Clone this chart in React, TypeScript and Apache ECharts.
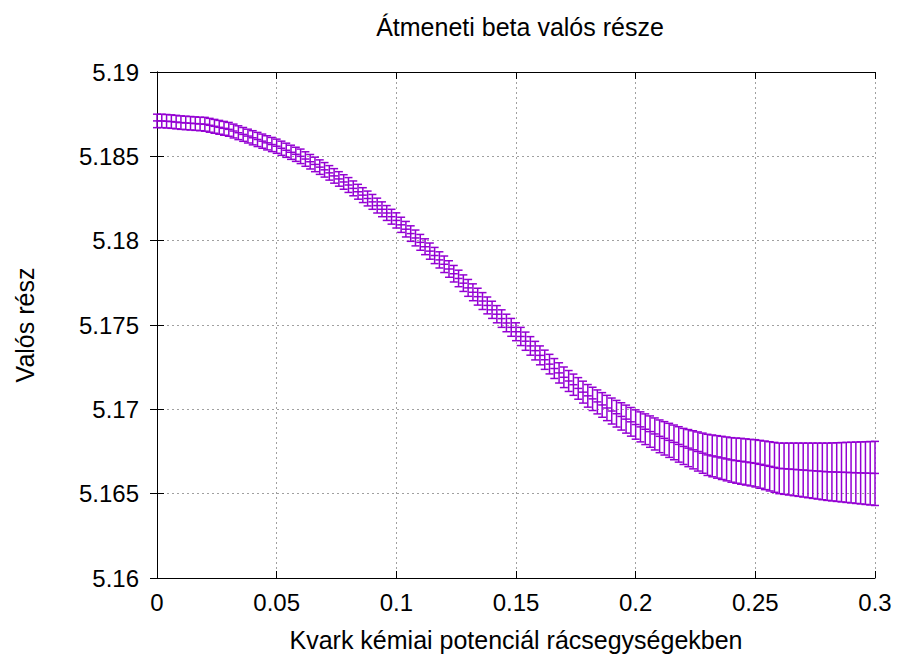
import React, { useEffect, useRef } from "react";
import * as echarts from "echarts";

const TITLE = "Átmeneti beta valós része";
const X_NAME = "Kvark kémiai potenciál rácsegységekben";
const Y_NAME = "Valós rész";
const X_START = 0;
const X_STEP = 0.002;

const centers: number[] = [
  5.1871, 5.1871, 5.18708, 5.18706, 5.18703,
  5.187, 5.18698, 5.18696, 5.18694, 5.18692,
  5.1869, 5.18684, 5.18678, 5.18672, 5.18666,
  5.1866, 5.1865, 5.1864, 5.1863, 5.1862,
  5.1861, 5.186, 5.1859, 5.1858, 5.1857,
  5.1856, 5.18548, 5.18536, 5.18524, 5.18512,
  5.185, 5.18484, 5.18468, 5.18452, 5.18436,
  5.1842, 5.18402, 5.18384, 5.18366, 5.18348,
  5.1833, 5.1831, 5.1829, 5.1827, 5.1825,
  5.1823, 5.18208, 5.18186, 5.18164, 5.18142,
  5.1812, 5.18094, 5.18068, 5.18042, 5.18016,
  5.1799, 5.17964, 5.17938, 5.17912, 5.17886,
  5.1786, 5.17832, 5.17804, 5.17776, 5.17748,
  5.1772, 5.17694, 5.17668, 5.17642, 5.17616,
  5.1759, 5.17564, 5.17538, 5.17512, 5.17486,
  5.1746, 5.17432, 5.17404, 5.17376, 5.17348,
  5.1732, 5.17294, 5.17268, 5.17242, 5.17216,
  5.1719, 5.17168, 5.17146, 5.17124, 5.17102,
  5.1708, 5.17062, 5.17044, 5.17026, 5.17008,
  5.1699, 5.16974, 5.16958, 5.16942, 5.16926,
  5.1691, 5.16896, 5.16882, 5.16868, 5.16854,
  5.1684, 5.16828, 5.16816, 5.16804, 5.16792,
  5.1678, 5.1677, 5.1676, 5.1675, 5.1674,
  5.1673, 5.16724, 5.16718, 5.16712, 5.16706,
  5.167, 5.16696, 5.16692, 5.16688, 5.16684,
  5.1668, 5.16674, 5.16668, 5.16662, 5.16656,
  5.1665, 5.16648, 5.16646, 5.16644, 5.16642,
  5.1664, 5.16638, 5.16636, 5.16634, 5.16632,
  5.1663, 5.16629, 5.16628, 5.16627, 5.16626,
  5.16625, 5.16624, 5.16623, 5.16622, 5.16621,
  5.1662,
];

const errors: number[] = [
  0.0004, 0.0004, 0.0004, 0.0004, 0.0004,
  0.0004, 0.0004, 0.0004, 0.0004, 0.0004,
  0.00041, 0.00041, 0.00041, 0.00041, 0.00041,
  0.00041, 0.00041, 0.00041, 0.00041, 0.00041,
  0.00042, 0.00042, 0.00042, 0.00042, 0.00042,
  0.00042, 0.00042, 0.00042, 0.00042, 0.00042,
  0.00043, 0.00043, 0.00043, 0.00043, 0.00043,
  0.00043, 0.00043, 0.00043, 0.00043, 0.00043,
  0.00044, 0.00044, 0.00044, 0.00044, 0.00044,
  0.00044, 0.00044, 0.00044, 0.00044, 0.00044,
  0.00045, 0.00045, 0.00046, 0.00046, 0.00047,
  0.00047, 0.00047, 0.00048, 0.00048, 0.00048,
  0.00049, 0.00049, 0.00049, 0.00049, 0.00049,
  0.0005, 0.0005, 0.0005, 0.0005, 0.0005,
  0.00051, 0.00051, 0.00052, 0.00052, 0.00053,
  0.00053, 0.00054, 0.00054, 0.00055, 0.00055,
  0.00056, 0.00057, 0.00058, 0.00059, 0.0006,
  0.00061, 0.00062, 0.00063, 0.00064, 0.00065,
  0.00067, 0.00069, 0.00071, 0.00073, 0.00075,
  0.00077, 0.00079, 0.00081, 0.00083, 0.00085,
  0.00087, 0.00089, 0.00091, 0.00093, 0.00095,
  0.00097, 0.00099, 0.00101, 0.00103, 0.00105,
  0.00107, 0.0011, 0.00113, 0.00116, 0.00119,
  0.00122, 0.00124, 0.00126, 0.00128, 0.0013,
  0.00132, 0.00134, 0.00136, 0.00137, 0.00138,
  0.0014, 0.00142, 0.00144, 0.00146, 0.00148,
  0.0015, 0.00152, 0.00154, 0.00156, 0.00158,
  0.0016, 0.00162, 0.00164, 0.00166, 0.00168,
  0.0017, 0.00172, 0.00174, 0.00176, 0.00178,
  0.0018, 0.00182, 0.00184, 0.00186, 0.00188,
  0.0019,
];

const COLOR = "#9400d3";
const FONT = "'Liberation Sans', Arial, sans-serif";

const fmt = (v: number) => String(parseFloat(v.toFixed(4)));

export default function App() {
  const ref = useRef<HTMLDivElement>(null);
  useEffect(() => {
    document.body.style.margin = "0";
    if (!ref.current) return;
    const chart = echarts.init(ref.current, null, { renderer: "svg" });
    const data = centers.map((c, i) => [X_START + i * X_STEP, c, errors[i]]);
    const gridLine = { show: true, lineStyle: { color: "#a0a0a0", type: [2, 3] as any, width: 1 } };
    const hiddenAxis = {
      show: true,
      axisLabel: { show: false },
      splitLine: { show: false },
      axisLine: { show: true, lineStyle: { color: "#000", width: 1 } },
      axisTick: { show: true, inside: true, length: 7, lineStyle: { color: "#000" } },
    };
    chart.setOption({
      animation: false,
      backgroundColor: "#fff",
      title: {
        text: TITLE,
        left: 515,
        textAlign: "center",
        top: 9,
        textStyle: { fontFamily: FONT, fontSize: 25, fontWeight: "normal", color: "#000" },
      },
      grid: { left: 157, right: 23, top: 72, bottom: 82, containLabel: false },
      xAxis: [
        {
          type: "value",
          min: 0,
          max: 0.3,
          interval: 0.05,
          name: X_NAME,
          nameLocation: "middle",
          nameGap: 49,
          nameTextStyle: { fontFamily: FONT, fontSize: 25, color: "#000" },
          axisLine: { show: true, onZero: false, lineStyle: { color: "#000", width: 1 } },
          axisTick: { show: true, inside: true, length: 7, lineStyle: { color: "#000" } },
          axisLabel: { fontFamily: FONT, fontSize: 24, color: "#000", margin: 12, formatter: fmt },
          splitLine: gridLine,
        },
        { ...hiddenAxis, type: "value", position: "top", min: 0, max: 0.3, interval: 0.05 },
      ],
      yAxis: [
        {
          type: "value",
          min: 5.16,
          max: 5.19,
          interval: 0.005,
          name: Y_NAME,
          nameLocation: "middle",
          nameGap: 120,
          nameRotate: 90,
          nameTextStyle: { fontFamily: FONT, fontSize: 25, color: "#000" },
          axisLine: { show: true, onZero: false, lineStyle: { color: "#000", width: 1 } },
          axisTick: { show: true, inside: true, length: 7, lineStyle: { color: "#000" } },
          axisLabel: { fontFamily: FONT, fontSize: 24, color: "#000", margin: 18, formatter: fmt },
          splitLine: gridLine,
        },
        { ...hiddenAxis, type: "value", position: "right", min: 5.16, max: 5.19, interval: 0.005 },
      ],
      series: [
        {
          type: "custom",
          xAxisIndex: 0,
          yAxisIndex: 0,
          clip: false,
          encode: { x: 0, y: 1 },
          data,
          renderItem: (params: any, api: any) => {
            const x = api.value(0);
            const y = api.value(1);
            const e = api.value(2);
            const c = api.coord([x, y]);
            const hi = api.coord([x, y + e]);
            const lo = api.coord([x, y - e]);
            const hw = 4;
            const style = { stroke: COLOR, lineWidth: 1.5 };
            return {
              type: "group",
              children: [
                { type: "line", shape: { x1: c[0], y1: hi[1], x2: c[0], y2: lo[1] }, style },
                { type: "line", shape: { x1: c[0] - hw, y1: hi[1], x2: c[0] + hw, y2: hi[1] }, style },
                { type: "line", shape: { x1: c[0] - hw, y1: lo[1], x2: c[0] + hw, y2: lo[1] }, style },
                { type: "line", shape: { x1: c[0] - hw, y1: c[1], x2: c[0] + hw, y2: c[1] }, style },
              ],
            };
          },
        },
      ],
    });
    return () => chart.dispose();
  }, []);
  return <div ref={ref} style={{ width: 898, height: 660 }} />;
}
